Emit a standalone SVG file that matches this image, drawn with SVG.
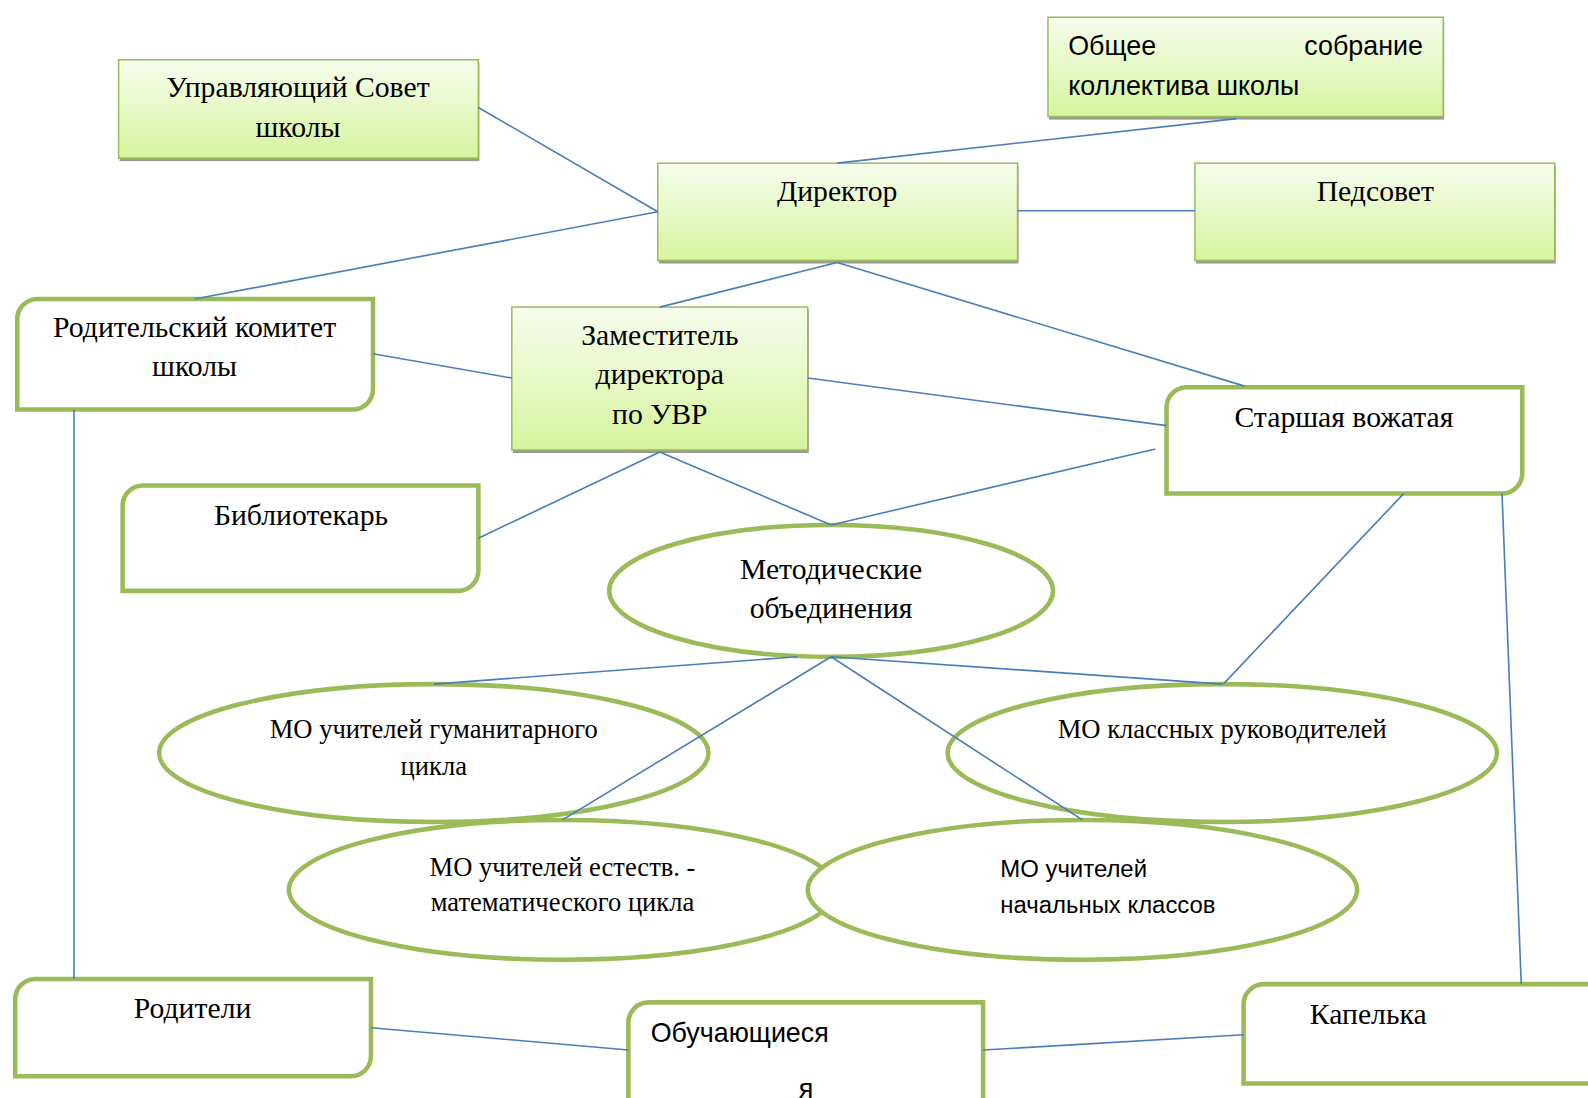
<svg xmlns="http://www.w3.org/2000/svg" width="1588" height="1098" viewBox="0 0 1588 1098">
<defs>
<linearGradient id="g" x1="0" y1="0" x2="0" y2="1">
<stop offset="0" stop-color="#f7fdee"/>
<stop offset="1" stop-color="#d6f49e"/>
</linearGradient>
</defs>
<style>
.gb{fill:url(#g);stroke:#9bbb59;stroke-width:1.5}
.sh{fill:#9a9a9a}
.rb{fill:#fff;stroke:#9bbb59;stroke-width:4.5}
.el{fill:#fff;stroke:#9bbb59;stroke-width:4.5}
.c{stroke:#4a7ebb;stroke-width:1.6;fill:none}
.t{font-family:"Liberation Serif","Times New Roman",serif;font-size:29.3px;fill:#000;text-anchor:middle}
.ts{font-family:"Liberation Serif","Times New Roman",serif;font-size:26.2px;fill:#000;text-anchor:middle}
.s{font-family:"Liberation Sans",Arial,sans-serif;font-size:26.5px;fill:#000}
.s2{font-family:"Liberation Sans",Arial,sans-serif;font-size:23.6px;fill:#000}
</style>
<g transform="scale(1.0135)">
<g id="n-upr">
<rect class="sh" x="118" y="62" width="355" height="97"/>
<rect class="gb" x="117" y="59" width="355" height="97"/>
<text class="t" x="294" y="96">Управляющий Совет</text>
<text class="t" x="294" y="135">школы</text>
</g>
<g id="n-obsh">
<rect class="sh" x="1035" y="20" width="390" height="98"/>
<rect class="gb" x="1034" y="17" width="390" height="98"/>
<text class="s" x="1054" y="54">Общее</text>
<text class="s" x="1404" y="54" text-anchor="end">собрание</text>
<text class="s" x="1054" y="94">коллектива школы</text>
</g>
<g id="n-dir">
<rect class="sh" x="650" y="164" width="355" height="96"/>
<rect class="gb" x="649" y="161" width="355" height="96"/>
<text class="t" x="826" y="198">Директор</text>
</g>
<g id="n-ped">
<rect class="sh" x="1180" y="164" width="355" height="96"/>
<rect class="gb" x="1179" y="161" width="355" height="96"/>
<text class="t" x="1357" y="198">Педсовет</text>
</g>
<g id="n-zam">
<rect class="sh" x="506" y="306" width="292" height="141"/>
<rect class="gb" x="505" y="303" width="292" height="141"/>
<text class="t" x="651" y="340">Заместитель</text>
<text class="t" x="651" y="379">директора</text>
<text class="t" x="651" y="418">по УВР</text>
</g>
<g id="n-rodkom">
<path class="rb" d="M37,295 H368 V384 A20,20 0 0 1 348,404 H17 V315 A20,20 0 0 1 37,295 Z"/>
<text class="t" x="192" y="333">Родительский комитет</text>
<text class="t" x="192" y="371">школы</text>
</g>
<g id="n-vozh">
<path class="rb" d="M1171,382 H1502 V467 A20,20 0 0 1 1482,487 H1151 V402 A20,20 0 0 1 1171,382 Z"/>
<text class="t" x="1326" y="421">Старшая вожатая</text>
</g>
<g id="n-bib">
<path class="rb" d="M141,479 H472 V563 A20,20 0 0 1 452,583 H121 V499 A20,20 0 0 1 141,479 Z"/>
<text class="t" x="297" y="518">Библиотекарь</text>
</g>
<g id="n-met">
<ellipse class="el" cx="820" cy="583" rx="219" ry="65"/>
<text class="t" x="820" y="571">Методические</text>
<text class="t" x="820" y="610">объединения</text>
</g>
<g id="n-gum">
<ellipse class="el" cx="428" cy="743" rx="271" ry="68"/>
<text class="ts" x="428" y="728">МО учителей гуманитарного</text>
<text class="ts" x="428" y="765">цикла</text>
</g>
<g id="n-kl">
<ellipse class="el" cx="1206" cy="743" rx="271" ry="68"/>
<text class="ts" x="1206" y="728">МО классных руководителей</text>
</g>
<g id="n-est">
<ellipse class="el" cx="555" cy="878" rx="270" ry="69"/>
<text class="ts" x="555" y="864">МО учителей естеств. -</text>
<text class="ts" x="555" y="899">математического цикла</text>
</g>
<g id="n-nach">
<ellipse class="el" cx="1068" cy="878" rx="271" ry="69"/>
<text class="s2" x="987" y="865">МО учителей</text>
<text class="s2" x="987" y="901">начальных классов</text>
</g>
<g id="n-rod">
<path class="rb" d="M35,966 H366 V1042 A20,20 0 0 1 346,1062 H15 V986 A20,20 0 0 1 35,966 Z"/>
<text class="t" x="190" y="1004">Родители</text>
</g>
<g id="n-obuch">
<path class="rb" d="M640,989 H970 V1110 H620 V1009 A20,20 0 0 1 640,989 Z"/>
<text class="s" x="642" y="1028">Обучающиеся</text>
<text class="s" x="788" y="1083">я</text>
</g>
<g id="n-kap">
<path class="rb" d="M1247,971 H1600 V1069 H1227 V991 A20,20 0 0 1 1247,971 Z"/>
<text class="t" x="1350" y="1010">Капелька</text>
</g>
<g id="connectors">
<line class="c" x1="472" y1="106" x2="649" y2="209"/>
<line class="c" x1="1220" y1="117" x2="826" y2="161"/>
<line class="c" x1="1004" y1="208" x2="1179" y2="208"/>
<line class="c" x1="649" y1="209" x2="192" y2="295"/>
<line class="c" x1="826" y1="259" x2="651" y2="303"/>
<line class="c" x1="826" y1="259" x2="1228" y2="381"/>
<line class="c" x1="368" y1="349" x2="505" y2="373"/>
<line class="c" x1="797" y1="373" x2="1151" y2="420"/>
<line class="c" x1="651" y1="446" x2="472" y2="531"/>
<line class="c" x1="651" y1="446" x2="820" y2="518"/>
<line class="c" x1="1140" y1="443" x2="820" y2="518"/>
<line class="c" x1="787" y1="648" x2="428" y2="675"/>
<line class="c" x1="820" y1="648" x2="1206" y2="675"/>
<line class="c" x1="820" y1="648" x2="555" y2="809"/>
<line class="c" x1="820" y1="648" x2="1068" y2="809"/>
<line class="c" x1="1385" y1="487" x2="1207" y2="675"/>
<line class="c" x1="73" y1="404" x2="73" y2="966"/>
<line class="c" x1="1482" y1="487" x2="1501" y2="971"/>
<line class="c" x1="366" y1="1014" x2="620" y2="1036"/>
<line class="c" x1="970" y1="1036" x2="1227" y2="1021"/>
</g>
</g>
</svg>
